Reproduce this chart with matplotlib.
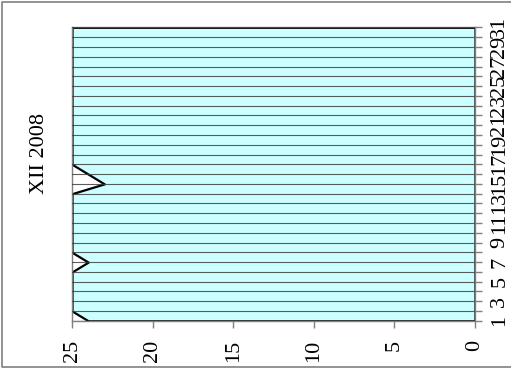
import matplotlib
matplotlib.use('Agg')
import matplotlib.pyplot as plt
from matplotlib.lines import Line2D

# data: daily values for XII 2008
days = list(range(1, 32))
values = [24, 25, 25, 25, 25, 25, 24, 25, 25, 25, 25, 25, 25, 25, 23, 24,
          25, 25, 25, 25, 25, 25, 25, 25, 25, 25, 25, 25, 25, 25, 25]
x_ticks = [25, 20, 15, 10, 5, 0]
title = 'XII 2008'

plt.rcParams['font.family'] = ['Liberation Serif', 'DejaVu Serif']

fig = plt.figure(figsize=(5.11, 3.70), dpi=100)
ax = fig.add_axes([0.141, 0.133, 0.7885, 0.793])

# filled area with black outline
ax.fill_betweenx(days, 0, values, facecolor='#CCFFFF', edgecolor='black',
                 linewidth=1.6, zorder=2)

# horizontal grid at every day
for d in days:
    ax.axhline(d, color='#404040', linewidth=0.8, alpha=0.85, zorder=3)

ax.set_xlim(25, 0)
ax.set_ylim(1, 31)

ax.set_xticks(x_ticks)
ax.set_xticklabels([str(v) for v in x_ticks], rotation=90, fontsize=16)

ax.yaxis.tick_right()
ax.set_yticks(days)
ax.set_yticklabels([str(d) if d % 2 == 1 else '' for d in days],
                   rotation=90, fontsize=16, va='center')

ax.tick_params(axis='both', direction='out', length=5, color='#808080',
               width=1)
ax.tick_params(axis='x', pad=9)
ax.tick_params(axis='y', pad=6)
for sp in ax.spines.values():
    sp.set_color('#808080')
    sp.set_linewidth(1)

fig.text(40 / 511, 1 - 154 / 370, title, rotation=90, fontsize=16,
         ha='center', va='center')

# outer frame (left, top, bottom edges)
frame_x = [520 / 511, 2 / 511, 2 / 511, 520 / 511]
frame_y = [1 - 2 / 370, 1 - 2 / 370, 1 - 367 / 370, 1 - 367 / 370]
fig.lines.append(Line2D(frame_x, frame_y, transform=fig.transFigure,
                        color='#808080', linewidth=1.2))

fig.savefig('out.png', dpi=100)
